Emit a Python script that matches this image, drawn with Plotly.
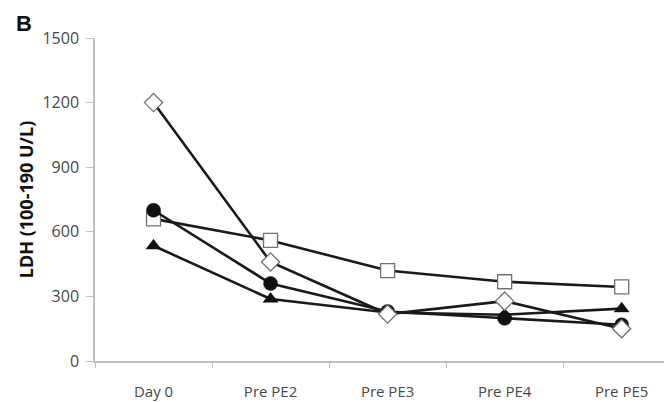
import plotly.graph_objects as go

categories = ["Day 0", "Pre PE2", "Pre PE3", "Pre PE4", "Pre PE5"]
square_vals = [660, 560, 420, 368, 344]
diamond_vals = [1200, 460, 218, 278, 150]
circle_vals = [700, 360, 230, 198, 168]
triangle_vals = [535, 288, 225, 215, 243]
y_ticks = [0, 300, 600, 900, 1200, 1500]

fig = go.Figure()
line = dict(color="#1a1a1a", width=2.6)

fig.add_trace(go.Scatter(x=categories, y=square_vals, mode="lines+markers", line=line,
                         marker=dict(symbol="square", size=14, color="white",
                                     line=dict(color="#707070", width=1.3))))
fig.add_trace(go.Scatter(x=categories, y=triangle_vals, mode="lines+markers", line=line,
                         marker=dict(symbol="triangle-up", size=13, color="#111111",
                                     line=dict(color="#111111", width=0.5))))
fig.add_trace(go.Scatter(x=categories, y=circle_vals, mode="lines+markers", line=line,
                         marker=dict(symbol="circle", size=14, color="#111111",
                                     line=dict(color="#111111", width=0.5))))
fig.add_trace(go.Scatter(x=categories, y=diamond_vals, mode="lines+markers", line=line,
                         marker=dict(symbol="diamond", size=14, color="white",
                                     line=dict(color="#707070", width=1.3))))

fig.update_layout(
    width=664, height=394,
    margin=dict(l=87, r=0, t=30, b=41),
    paper_bgcolor="white", plot_bgcolor="white",
    showlegend=False,
    font=dict(family="Open Sans, Liberation Sans, sans-serif", color="#484848", size=15),
)
fig.update_xaxes(
    type="category", range=[-0.5, 4.43],
    showline=True, linecolor="#c0c0c0", linewidth=1.5,
    ticks="outside", tickson="boundaries", ticklen=5, tickcolor="#c0c0c0",
    showgrid=False, zeroline=False, tickfont=dict(size=15, color="#484848"),
    ticklabelstandoff=16,
)
fig.update_yaxes(
    range=[0, 1500], tickvals=y_ticks,
    showline=True, linecolor="#c0c0c0", linewidth=1.5,
    ticks="outside", ticklen=7, tickcolor="#c0c0c0",
    showgrid=False, zeroline=False, tickfont=dict(size=16, color="#484848"),
    ticklabelstandoff=4,
    title=dict(text="<b>LDH (100-190 U/L)</b>", font=dict(size=18, color="#111111"), standoff=4),
)
fig.add_annotation(text="<b>B</b>", xref="paper", yref="paper", x=-0.14, y=1.09,
                   xanchor="left", yanchor="top", showarrow=False,
                   font=dict(size=22, color="#111111", family="Liberation Sans, Arial, sans-serif"))

fig.write_html("out.html")
